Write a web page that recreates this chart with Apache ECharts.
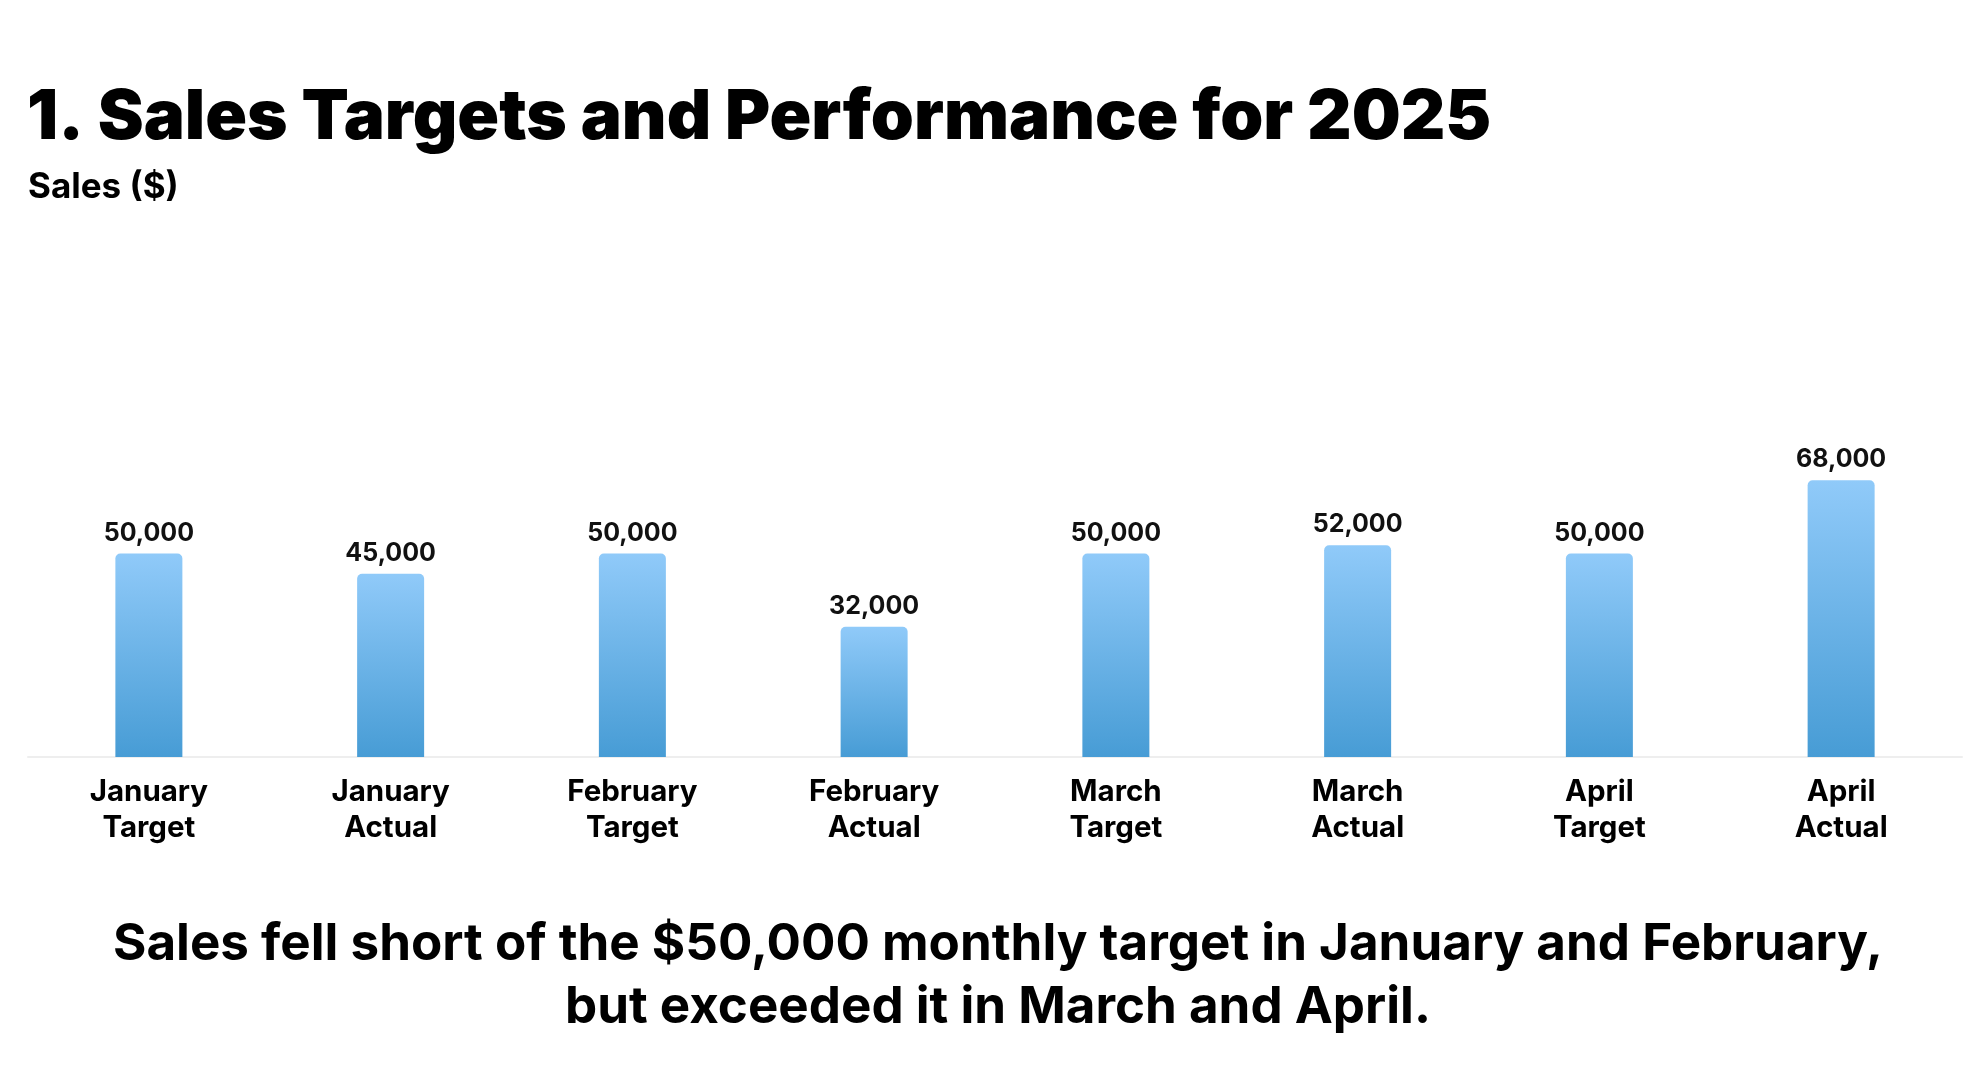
<!DOCTYPE html>
<html>
<head>
<meta charset="utf-8">
<script src="https://cdn.jsdelivr.net/npm/echarts@6/dist/echarts.min.js"></script>
<style>
html,body{margin:0;padding:0;background:#fff;}
#chart{width:1971px;height:1084px;}
</style>
</head>
<body>
<div id="chart"></div>
<script>
const categories = ["January\nTarget", "January\nActual", "February\nTarget", "February\nActual", "March\nTarget", "March\nActual", "April\nTarget", "April\nActual"];
const salesValues = [50000, 45000, 50000, 32000, 50000, 52000, 50000, 68000];
const titleText = "1. Sales Targets and Performance for 2025";
const axisTitle = "Sales ($)";
const footnoteText = "Sales fell short of the $50,000 monthly target in January and February,\nbut exceeded it in March and April.";

const chart = echarts.init(document.getElementById('chart'), null, {renderer: 'canvas'});
const FONT = 'Inter, "Noto Sans", sans-serif';
chart.setOption({
  backgroundColor: '#ffffff',
  animation: false,
  title: [
    {text: titleText, left: 27, top: 84, padding: 0,
     textStyle: {fontFamily: FONT, fontWeight: 900, fontSize: 69, color: '#000', lineHeight: 69}},
    {text: axisTitle, left: 28, top: 168, padding: 0,
     textStyle: {fontFamily: FONT, fontWeight: 700, fontSize: 35, color: '#000', lineHeight: 39}},
    {text: footnoteText, left: 998, textAlign: 'center', top: 913, padding: 0,
     textStyle: {fontFamily: FONT, fontWeight: 700, fontSize: 51.1, color: '#000', lineHeight: 63}}
  ],
  grid: {left: 28, right: 9, top: 350, bottom: 327, containLabel: false},
  xAxis: {
    type: 'category', data: categories,
    axisLine: {show: true, lineStyle: {color: '#eeeeee', width: 2}},
    axisTick: {show: false},
    axisLabel: {fontFamily: FONT, fontWeight: 700, fontSize: 29.5, lineHeight: 36, color: '#000', margin: 17, interval: 0}
  },
  yAxis: {
    type: 'value', min: 0, max: 100000,
    show: false, splitLine: {show: false}
  },
  series: [{
    type: 'bar', data: salesValues, barWidth: 67,
    itemStyle: {
      borderRadius: [5, 5, 0, 0],
      color: new echarts.graphic.LinearGradient(0, 0, 0, 1, [
        {offset: 0, color: '#90CAF9'}, {offset: 1, color: '#479CD5'}
      ])
    },
    label: {
      show: true, position: 'top', distance: 8,
      fontFamily: FONT, fontWeight: 700, fontSize: 25, color: '#111',
      formatter: p => p.value.toLocaleString('en-US')
    }
  }]
});
</script>
</body>
</html>
